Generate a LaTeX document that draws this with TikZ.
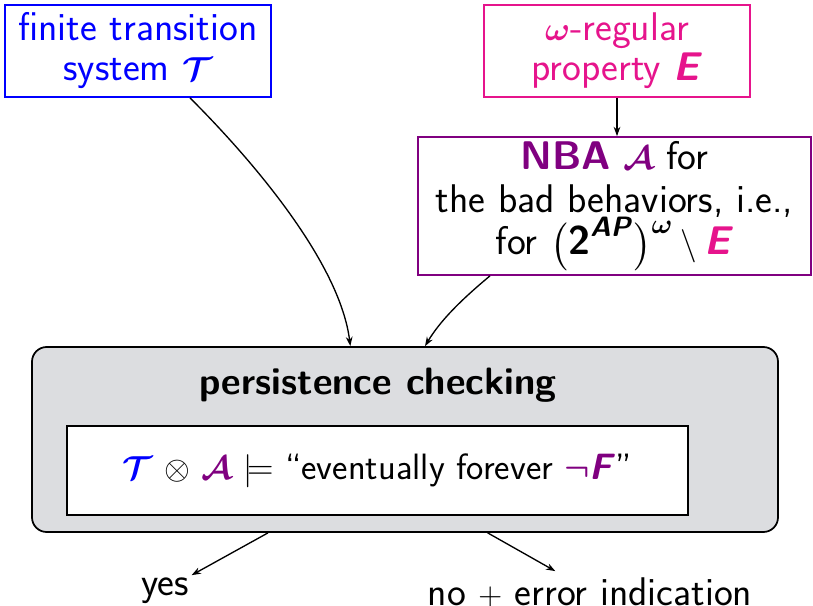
\documentclass[tikz,border=0pt]{standalone}
\usepackage{amsmath, amssymb, bm}
\usepackage{fontspec}
\usepackage{tikz}
\usetikzlibrary{arrows.meta}
\renewcommand{\familydefault}{\sfdefault}

\definecolor{propcolor}{RGB}{230,20,140}
\definecolor{nbacolor}{RGB}{128,0,128}
\definecolor{boxgray}{RGB}{220,221,224}

\newcommand{\bsf}[1]{\textbf{\textit{#1}}}

\begin{document}
\begin{tikzpicture}[x=0.75pt, y=-0.75pt, >={Stealth[length=7pt,width=5pt]},
    font=\fontsize{30}{30}\selectfont,
    inbox/.style={draw, line width=1.3pt, align=center, inner sep=0pt,
      minimum width=199.5pt, minimum height=69pt},
    flow/.style={->, line width=1pt}]
  \useasboundingbox (0,0) rectangle (813,606);

  % inputs
  \node[inbox, color=blue] (sys) at (138,51)
    {finite transition\\ system $\bm{\mathcal{T}}$};
  \node[inbox, color=propcolor] (prop) at (617,51)
    {$\bm{\omega}$-regular\\ property \bsf{E}};
  \node[inbox, draw=nbacolor, font=\fontsize{30}{32}\selectfont,
    minimum width=294.75pt, minimum height=103.5pt] (nba) at (614.5,206)
    {\textcolor{nbacolor}{\textbf{NBA} $\bm{\mathcal{A}}$} for\\
     the bad behaviors, i.e.,\\
     for $\bm{\bigl(}\textbf{2}^{\text{\bsf{AP}}}\bm{\bigr)}^{\bm{\omega}} \setminus \textcolor{propcolor}{\text{\bsf{E}}}$};

  % checking
  \node[draw, line width=1.3pt, fill=boxgray, rounded corners=11pt, inner sep=0pt,
    minimum width=559.5pt, minimum height=138.75pt] (check) at (405,439.5) {};
  \node[font=\fontsize{28.6}{30}\selectfont] (title) at (378,385) {\textbf{persistence checking}};
  \node[draw, fill=white, line width=2pt, inner sep=0pt, font=\fontsize{27.5}{30}\selectfont,
    minimum width=465.75pt, minimum height=66.75pt] (formula) at (377.5,470.5)
    {\textcolor{blue}{$\bm{\mathcal{T}}$} $\otimes$ \textcolor{nbacolor}{$\bm{\mathcal{A}}$} $\models$
     ``eventually forever \textcolor{nbacolor}{$\bm{\neg}$\bsf{F}}''};

  % results
  \node[inner sep=0pt] (yes) at (165,591) {yes};
  \node[inner sep=0pt] (no) at (590,593) {no $+$ error indication};

  \draw[flow] (prop.south) -- (prop.south |- nba.north);
  \draw[flow] ([xshift=39pt]sys.south) .. controls +(70,70) and +(-10,-80) .. ([xshift=-41pt]check.north);
  \draw[flow] ([xshift=-93.4pt]nba.south) .. controls +(-30,25) and +(15,-25) .. ([xshift=15pt]check.north);
  \draw[flow] ([xshift=-102.75pt]check.south) -- ([xshift=2pt,yshift=2pt]yes.north east);
  \draw[flow] ([xshift=62pt]check.south) -- ([xshift=-26pt,yshift=5pt]no.north);
\end{tikzpicture}
\end{document}
